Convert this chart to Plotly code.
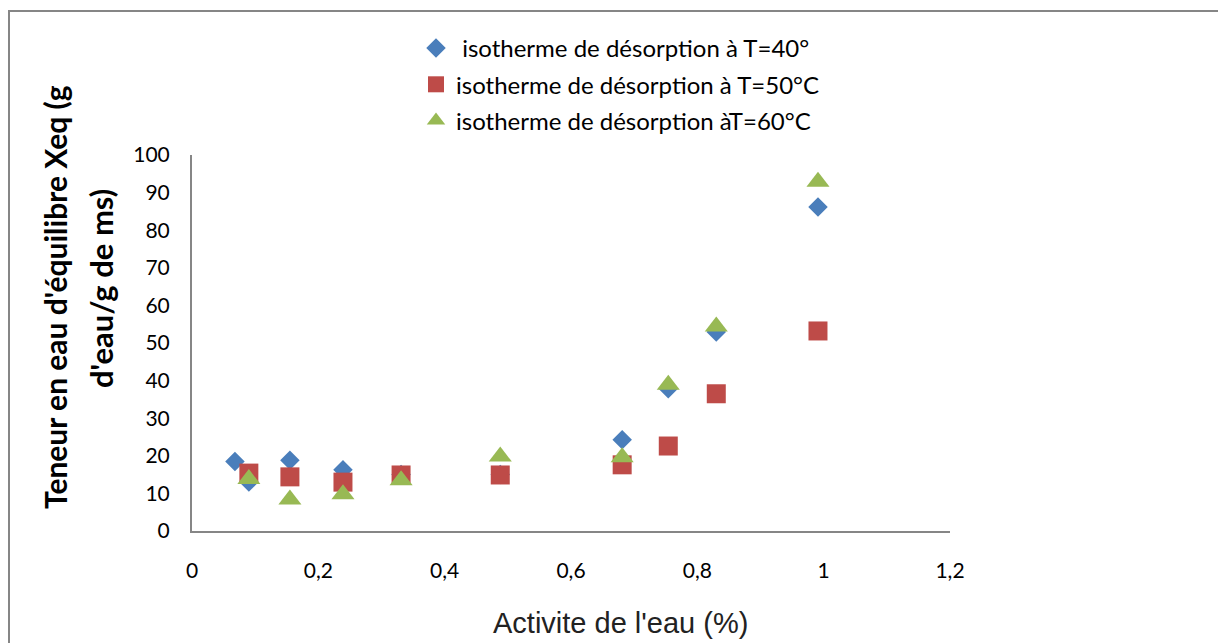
import plotly.graph_objects as go

# Water activity (x) and equilibrium moisture content (y) per temperature
aw_40 = [0.068, 0.090, 0.155, 0.239, 0.331, 0.488, 0.681, 0.754, 0.830, 0.991]
xeq_40 = [18.5, 13.0, 18.8, 16.3, 15.0, 15.0, 24.3, 37.8, 52.9, 86.2]

aw_50 = [0.090, 0.155, 0.239, 0.331, 0.488, 0.681, 0.754, 0.830, 0.991]
xeq_50 = [15.4, 14.4, 13.0, 14.9, 14.9, 17.6, 22.6, 36.5, 53.2]

aw_60 = [0.090, 0.155, 0.239, 0.331, 0.488, 0.681, 0.754, 0.830, 0.991]
xeq_60 = [13.8, 8.4, 9.8, 13.5, 19.8, 19.6, 38.9, 54.4, 92.9]

x_ticks = [0, 0.2, 0.4, 0.6, 0.8, 1.0, 1.2]
x_tick_text = ["0", "0,2", "0,4", "0,6", "0,8", "1", "1,2"]
y_ticks = [0, 10, 20, 30, 40, 50, 60, 70, 80, 90, 100]

series = [
    (" isotherme de désorption à T=40°", aw_40, xeq_40, "diamond", "#4a7ebb", 15),
    ("isotherme de désorption à T=50°C", aw_50, xeq_50, "square", "#be4b48", 19),
    ("isotherme de désorption àT=60°C", aw_60, xeq_60, "triangle-up", "#98b954", 20),
]

BODY_FONT = "Lato, Open Sans, sans-serif"

fig = go.Figure()
for i, (name, xs, ys, sym, col, size) in enumerate(series):
    fig.add_trace(go.Scatter(
        x=xs, y=ys, mode="markers", name=name, legendgroup=f"g{i}",
        marker=dict(symbol=sym, color=col, size=size, line=dict(width=0)),
    ))

W, H = 1218, 643
L, R, T, B = 192, 268, 155, 112
pw, ph = W - L - R, H - T - B

def px_x(p):
    return (p - L) / pw

def px_y(p):
    return (H - B - p) / ph

def title_font(size):
    return dict(size=size, color="black", family=BODY_FONT, weight="bold")

fig.update_layout(
    width=W, height=H,
    margin=dict(l=L, r=R, t=T, b=B),
    paper_bgcolor="white", plot_bgcolor="white",
    font=dict(family=BODY_FONT, color="black"),
    showlegend=True,
    legend=dict(
        x=px_x(416), y=px_y(26), xanchor="left", yanchor="top",
        font=dict(size=24, color="black", family=BODY_FONT),
        itemwidth=30, traceorder="grouped", tracegroupgap=2,
        bgcolor="rgba(0,0,0,0)",
    ),
    xaxis=dict(
        range=[0, 1.2], tickvals=x_ticks, ticktext=x_tick_text,
        showgrid=False, zeroline=False, showline=True,
        linecolor="#868686", linewidth=2, ticks="",
        tickfont=dict(size=21, family=BODY_FONT), ticklabelstandoff=20,
    ),
    yaxis=dict(
        range=[0, 100], tickvals=y_ticks,
        showgrid=False, zeroline=False, showline=True,
        linecolor="#868686", linewidth=2, ticks="",
        tickfont=dict(size=21, family=BODY_FONT), ticklabelstandoff=16,
    ),
    annotations=[
        dict(
            text="Teneur en eau d'équilibre Xeq (g",
            xref="paper", yref="paper", x=px_x(55), y=px_y(297),
            xanchor="center", yanchor="middle", textangle=-90,
            showarrow=False, font=title_font(30),
        ),
        dict(
            text="d'eau/g de ms)",
            xref="paper", yref="paper", x=px_x(101), y=px_y(289),
            xanchor="center", yanchor="middle", textangle=-90,
            showarrow=False, font=title_font(31),
        ),
        dict(
            text="Activite de l'eau (%)",
            xref="paper", yref="paper", x=px_x(620), y=px_y(623),
            xanchor="center", yanchor="middle", showarrow=False,
            font=dict(size=29, color="#222222", family="Liberation Sans, Arial, sans-serif"),
        ),
    ],
    shapes=[
        dict(
            type="rect", xref="paper", yref="paper",
            x0=px_x(9), x1=px_x(1230), y0=px_y(660), y1=px_y(11),
            line=dict(color="#868686", width=2), fillcolor="rgba(0,0,0,0)",
        ),
    ],
)

fig.write_html("out.html")
